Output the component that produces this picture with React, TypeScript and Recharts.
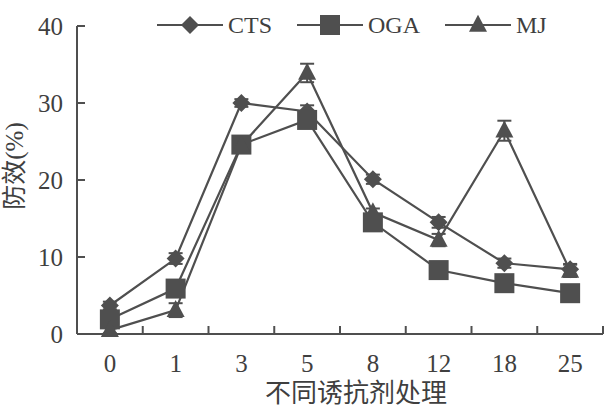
import React from 'react';
import { LineChart, Line, XAxis, YAxis, ErrorBar, Legend } from 'recharts';

const categories = ['0', '1', '3', '5', '8', '12', '18', '25'];
const ctsValues = [3.7, 9.8, 30.0, 28.9, 20.1, 14.5, 9.2, 8.4];
const ogaValues = [1.9, 5.9, 24.6, 27.8, 14.5, 8.3, 6.6, 5.3];
const mjValues = [0.5, 3.1, 24.5, 33.9, 15.8, 12.2, 26.4, 8.2];
const ctsErrors = [0.5, 0.7, 0.5, 0.8, 0.6, 0.7, 0.6, 0.7];
const ogaErrors = [0.6, 0.8, 0.6, 0.7, 0.5, 0.5, 0.5, 0.8];
const mjErrors = [0.4, 0.9, 0.5, 1.2, 0.5, 0.8, 1.3, 0.8];
const yTicks = [0, 10, 20, 30, 40];
const seriesNames = ['CTS', 'OGA', 'MJ'];

const xTicks: number[] = categories
  .flatMap((_, i) => [i - 0.5, i])
  .concat([categories.length - 0.5]);

const data = categories.map((c, i) => ({
  idx: i,
  cat: c,
  CTS: ctsValues[i],
  ctsErr: ctsErrors[i],
  OGA: ogaValues[i],
  ogaErr: ogaErrors[i],
  MJ: mjValues[i],
  mjErr: mjErrors[i],
}));

const INK = '#4f4f4f';
const TEXT = '#3f3f3f';
const FONT = "'Liberation Serif', 'Times New Roman', 'Noto Sans CJK SC', serif";

const diamondPath = (cx: number, cy: number, r: number) =>
  `M${cx},${cy - r} L${cx + r},${cy} L${cx},${cy + r} L${cx - r},${cy} Z`;
const trianglePath = (cx: number, cy: number, w: number, h: number) =>
  `M${cx},${cy - h * 0.6} L${cx + w / 2},${cy + h * 0.4} L${cx - w / 2},${cy + h * 0.4} Z`;

const Marker = ({ kind, cx, cy }: { kind: string; cx: number; cy: number }) => {
  if (kind === 'CTS') return <path d={diamondPath(cx, cy, 9)} fill={INK} />;
  if (kind === 'OGA') return <rect x={cx - 10} y={cy - 10} width={20} height={20} fill={INK} />;
  return <path d={trianglePath(cx, cy, 18, 17)} fill={INK} />;
};

const makeDot = (kind: string) => (props: any) => {
  const { cx, cy, index } = props;
  if (cx == null || cy == null) return <g key={`${kind}-${index}`} />;
  return (
    <g key={`${kind}-${index}`}>
      <Marker kind={kind} cx={cx} cy={cy} />
    </g>
  );
};

const XTick = (props: any) => {
  const { x, y, payload } = props;
  const v = payload.value as number;
  if (Number.isInteger(v)) {
    return (
      <text x={x} y={y + 38} textAnchor="middle" fontSize={25} fill={TEXT} fontFamily={FONT}>
        {categories[v]}
      </text>
    );
  }
  return <line x1={x} y1={y} x2={x} y2={y - 8} stroke={INK} strokeWidth={2} />;
};

const YTick = (props: any) => {
  const { x, y, payload } = props;
  return (
    <g>
      <line x1={x} y1={y} x2={x + 8} y2={y} stroke={INK} strokeWidth={2} />
      <text x={x - 14} y={y} dy="0.35em" textAnchor="end" fontSize={25} fill={TEXT} fontFamily={FONT}>
        {payload.value}
      </text>
    </g>
  );
};

const LegendContent = () => (
  <div style={{ display: 'flex', alignItems: 'center', fontFamily: FONT }}>
    {seriesNames.map((name, i) => (
      <div
        key={name}
        style={{ display: 'flex', alignItems: 'center', marginRight: i < seriesNames.length - 1 ? 25 : 0 }}
      >
        <svg width={66} height={24} style={{ display: 'block' }}>
          <line x1={0} y1={12} x2={66} y2={12} stroke={INK} strokeWidth={2.2} />
          <Marker kind={name} cx={33} cy={12} />
        </svg>
        <span style={{ fontSize: 24, color: TEXT, marginLeft: 5, lineHeight: '24px' }}>{name}</span>
      </div>
    ))}
  </div>
);

export default function App() {
  return (
    <div style={{ position: 'absolute', left: 0, top: 0, width: 611, height: 411, background: '#fff' }}>
      <LineChart
        width={611}
        height={411}
        data={data}
        margin={{ top: 26, right: 8, bottom: 0, left: 0 }}
      >
        <XAxis
          dataKey="idx"
          type="number"
          domain={[-0.5, categories.length - 0.5]}
          ticks={xTicks}
          interval={0}
          height={77}
          tickLine={false}
          tickSize={0}
          tickMargin={0}
          tick={<XTick />}
          axisLine={{ stroke: INK, strokeWidth: 2 }}
          label={{
            value: '不同诱抗剂处理',
            position: 'insideBottom',
            offset: 9,
            dx: 16,
            fontSize: 26,
            fill: TEXT,
            fontFamily: FONT,
          }}
        />
        <YAxis
          type="number"
          domain={[0, 40]}
          ticks={yTicks}
          interval={0}
          width={77}
          tickLine={false}
          tickSize={0}
          tickMargin={0}
          tick={<YTick />}
          axisLine={{ stroke: INK, strokeWidth: 2 }}
          label={{
            value: '防效(%)',
            angle: -90,
            position: 'center',
            dx: -24,
            dy: -14,
            fontSize: 25,
            fill: TEXT,
            fontFamily: FONT,
          }}
        />
        <Legend
          layout="horizontal"
          verticalAlign="middle"
          align="center"
          content={<LegendContent />}
          wrapperStyle={{ position: 'absolute', top: 13, left: 157, width: 'auto' }}
        />
        <Line
          dataKey="CTS"
          stroke={INK}
          strokeWidth={2.2}
          isAnimationActive={false}
          dot={makeDot('CTS')}
          activeDot={false}
        >
          <ErrorBar dataKey="ctsErr" width={7} strokeWidth={2} stroke={INK} direction="y" />
        </Line>
        <Line
          dataKey="OGA"
          stroke={INK}
          strokeWidth={2.2}
          isAnimationActive={false}
          dot={makeDot('OGA')}
          activeDot={false}
        >
          <ErrorBar dataKey="ogaErr" width={7} strokeWidth={2} stroke={INK} direction="y" />
        </Line>
        <Line
          dataKey="MJ"
          stroke={INK}
          strokeWidth={2.2}
          isAnimationActive={false}
          dot={makeDot('MJ')}
          activeDot={false}
        >
          <ErrorBar dataKey="mjErr" width={7} strokeWidth={2} stroke={INK} direction="y" />
        </Line>
      </LineChart>
    </div>
  );
}
